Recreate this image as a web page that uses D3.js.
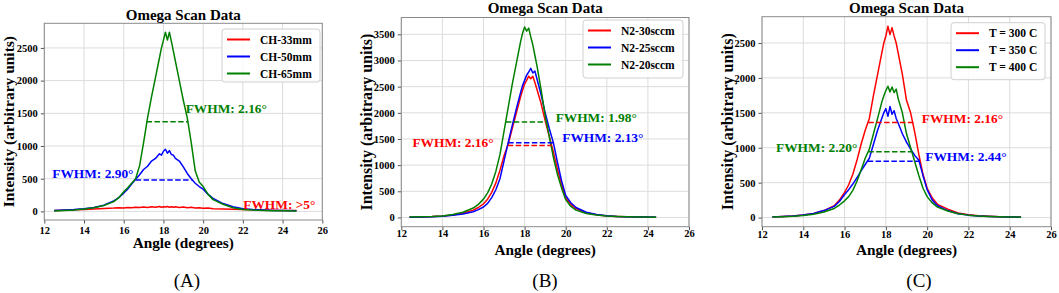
<!DOCTYPE html>
<html lang="en">
<head>
<meta charset="UTF-8">
<title>Omega Scan Data</title>
<script src="https://d3js.org/d3.v7.min.js"></script>
<style>
  body { margin: 0; background: #fff; }
  svg { display: block; font-family: "Liberation Serif", "Times New Roman", serif; }
</style>
</head>
<body>
<div id="chart"></div>
<script>
// ---- data ----
const xTicks = [12, 14, 16, 18, 20, 22, 24, 26];

// (A) channel height
const anglesA = [12.5, 13, 13.5, 14, 14.5, 15, 15.5, 15.75, 16, 16.2, 16.4, 16.6, 16.8, 17.0, 17.2, 17.4, 17.6, 17.8, 17.9,
  18.0, 18.1, 18.2, 18.3, 18.4, 18.5, 18.6, 18.8, 19.0, 19.2, 19.4, 19.6, 19.8, 20.0, 20.25, 20.5, 21, 21.5, 22, 22.5, 23, 23.5, 24, 24.7];
const ch33 = [12, 18, 25, 30, 38, 45, 50, 55, 52, 60, 55, 65, 58, 68, 60, 72, 62, 75, 64,
  72, 66, 74, 63, 72, 62, 70, 60, 66, 57, 62, 52, 56, 48, 50, 42, 38, 32, 28, 24, 20, 17, 14, 12];
const ch50 = [15, 20, 28, 40, 60, 95, 160, 210, 280, 340, 420, 490, 560, 640, 690, 770, 810, 880, 860,
  920, 950, 890, 930, 870, 860, 810, 770, 680, 580, 500, 430, 380, 340, 260, 200, 120, 70, 42, 28, 20, 15, 12, 8];
const ch65 = [5, 15, 22, 35, 55, 90, 150, 210, 300, 360, 430, 500, 700, 1050, 1430, 1750, 2050, 2350, 2500,
  2620, 2740, 2620, 2740, 2600, 2450, 2300, 2000, 1700, 1430, 1050, 620, 450, 380, 260, 180, 110, 55, 30, 20, 15, 10, 8, 6];
const namesA = ["CH-33mm", "CH-50mm", "CH-65mm"];
// [x start, x end, level, label x, label y, text]
const fwhmA = [
  null,
  [16.6, 19.42, 480, 12.4, 510, "FWHM: 2.90°"],
  [17.15, 19.25, 1370, 19.12, 1500, "FWHM: 2.16°"]
];
const noteA = [22.02, 43, "FWHM: >5°"];

// (B) N2 flow
const anglesB = [12.4, 13, 13.5, 14, 14.5, 15, 15.5, 15.75, 16, 16.2, 16.4, 16.6, 16.8, 17.0, 17.2, 17.4, 17.6, 17.8, 17.9,
  18.0, 18.1, 18.2, 18.3, 18.4, 18.5, 18.6, 18.8, 19.0, 19.2, 19.4, 19.6, 19.8, 20.0, 20.25, 20.5, 21, 21.5, 22, 22.5, 23, 23.5, 24, 24.4];
const n30 = [6, 10, 16, 28, 45, 80, 140, 190, 260, 350, 480, 660, 900, 1180, 1400, 1700, 2000, 2300, 2430,
  2550, 2620, 2700, 2650, 2700, 2580, 2450, 2180, 1850, 1550, 1250, 920, 620, 370, 250, 170, 90, 50, 30, 20, 13, 9, 7, 5];
const n25 = [6, 10, 15, 25, 40, 65, 110, 150, 200, 270, 380, 530, 740, 1080, 1430, 1760, 2080, 2380, 2520,
  2620, 2720, 2780, 2850, 2760, 2800, 2650, 2350, 2000, 1700, 1430, 1050, 700, 420, 280, 190, 100, 55, 32, 20, 14, 10, 7, 5];
const n20 = [8, 12, 18, 30, 55, 100, 180, 250, 350, 470, 640, 880, 1200, 1650, 2100, 2550, 2950, 3350, 3520,
  3640, 3560, 3620, 3450, 3300, 3100, 2900, 2450, 1950, 1550, 1150, 820, 560, 340, 210, 140, 75, 45, 28, 18, 12, 10, 8, 6];
const namesB = ["N2-30sccm", "N2-25sccm", "N2-20sccm"];
const fwhmB = [
  [17.18, 19.32, 1376, 12.54, 1349, "FWHM: 2.16°"],
  [17.2, 19.4, 1428, 19.83, 1434, "FWHM: 2.13°"],
  [17.09, 19.07, 1823, 19.51, 1818, "FWHM: 1.98°"]
];

// (C) temperature
const anglesC = [12.5, 13, 13.5, 14, 14.5, 15, 15.5, 15.75, 16, 16.2, 16.4, 16.6, 16.8, 17.0, 17.2, 17.4, 17.6, 17.8, 17.9,
  18.0, 18.1, 18.2, 18.3, 18.4, 18.5, 18.6, 18.8, 19.0, 19.2, 19.4, 19.6, 19.8, 20.0, 20.25, 20.5, 21, 21.5, 22, 22.5, 23, 23.5, 24, 24.55];
const t300 = [10, 15, 22, 38, 60, 100, 170, 250, 360, 470, 620, 820, 1050, 1250, 1420, 1750, 2050, 2350, 2500,
  2600, 2740, 2620, 2720, 2600, 2500, 2350, 2050, 1680, 1500, 1220, 900, 620, 420, 280, 190, 120, 65, 40, 25, 18, 12, 9, 7];
const t350 = [10, 15, 22, 38, 60, 100, 160, 230, 330, 400, 480, 570, 670, 760, 850, 1050, 1250, 1420, 1500,
  1560, 1450, 1590, 1480, 1530, 1420, 1350, 1200, 1080, 980, 890, 820, 600, 400, 250, 170, 100, 55, 35, 22, 15, 11, 8, 6];
const t400 = [8, 12, 18, 30, 48, 80, 130, 180, 240, 300, 390, 520, 680, 850, 980, 1200, 1420, 1650, 1740,
  1820, 1880, 1800, 1870, 1790, 1840, 1700, 1500, 1200, 1000, 800, 600, 420, 300, 210, 150, 95, 55, 35, 22, 15, 11, 8, 6];
const namesC = ["T = 300 C", "T = 350 C", "T = 400 C"];
const fwhmC = [
  [17.15, 19.33, 1363, 19.74, 1355, "FWHM: 2.16°"],
  [17.12, 19.65, 805, 19.91, 807, "FWHM: 2.44°"],
  [17.15, 19.25, 944, 12.68, 940, "FWHM: 2.20°"]
];

const colors = ["#ff0000", "#0000ff", "#008000"];

// ---- layout ----
const W = 1059, H = 293;
const FONT = "'Liberation Serif', 'Times New Roman', serif";
const panels = [
  { tag: "(A)", angles: anglesA, values: [ch33, ch50, ch65], names: namesA, fwhm: fwhmA, note: noteA,
    left: 44.3, right: 322.3, top: 23.3, bottom: 220, titleY: 19.5, tickY: 234, xLabelY: 248, yLabelX: 9, yLabelSize: 15.5,
    legend: { x: 222, y: 29, w: 98, h: 53 }, tagX: 187 },
  { tag: "(B)", angles: anglesB, values: [n30, n25, n20], names: namesB, fwhm: fwhmB,
    left: 401.3, right: 689, top: 17.5, bottom: 226.7, titleY: 13, tickY: 237.5, xLabelY: 255, yLabelX: 367, yLabelSize: 16,
    legend: { x: 583, y: 20, w: 100, h: 58 }, tagX: 545 },
  { tag: "(C)", angles: anglesC, values: [t300, t350, t400], names: namesC, fwhm: fwhmC,
    left: 762, right: 1051, top: 16.7, bottom: 226.7, titleY: 13, tickY: 238.5, xLabelY: 255, yLabelX: 728, yLabelSize: 16,
    legend: { x: 951, y: 22.7, w: 94, h: 57 }, tagX: 919 }
];

const svg = d3.select("#chart").append("svg")
  .attr("width", W).attr("height", H)
  .attr("font-family", FONT);

panels.forEach(drawPanel);

function txt(sel, size, bold) {
  return sel.append("text").attr("font-family", FONT).attr("font-size", size)
    .attr("font-weight", bold ? "bold" : "normal");
}

function drawPanel(p) {
  const all = p.values.flat();
  const lo = d3.min(all), hi = d3.max(all), pad = (hi - lo) * 0.05;

  const x = d3.scaleLinear().domain([12, 26]).range([p.left, p.right]);
  const y = d3.scaleLinear().domain([lo - pad, hi + pad]).range([p.bottom, p.top]);
  const yTicks = d3.range(0, hi + pad, 500);

  const g = svg.append("g");

  // grid
  g.append("g").selectAll("line").data(xTicks).join("line")
    .attr("x1", d => x(d)).attr("x2", d => x(d))
    .attr("y1", p.top).attr("y2", p.bottom)
    .attr("stroke", "#dcdcdc").attr("stroke-width", 1);
  g.append("g").selectAll("line").data(yTicks).join("line")
    .attr("x1", p.left).attr("x2", p.right)
    .attr("y1", d => y(d)).attr("y2", d => y(d))
    .attr("stroke", "#dcdcdc").attr("stroke-width", 1);

  // axes
  const xAxis = g.append("g").attr("transform", `translate(0,${p.bottom})`)
    .call(d3.axisBottom(x).tickValues(xTicks).tickFormat(d3.format("d")).tickSize(3.5).tickPadding(2));
  const yAxis = g.append("g").attr("transform", `translate(${p.left},0)`)
    .call(d3.axisLeft(y).tickValues(yTicks).tickFormat(d3.format("d")).tickSize(3.5).tickPadding(3));
  [xAxis, yAxis].forEach(a => {
    a.attr("font-family", FONT).attr("font-size", 10.5).attr("font-weight", "bold");
    a.select(".domain").remove();
    a.selectAll(".tick line").attr("stroke", "#555");
    a.selectAll(".tick text").attr("fill", "#000");
  });
  xAxis.selectAll(".tick text").attr("dy", null).attr("y", p.tickY - p.bottom);

  // curves
  const clipId = "clip" + p.tag.replace(/\W/g, "");
  svg.append("clipPath").attr("id", clipId).append("rect")
    .attr("x", p.left).attr("y", p.top).attr("width", p.right - p.left).attr("height", p.bottom - p.top);
  const plot = g.append("g").attr("clip-path", `url(#${clipId})`);
  p.values.forEach((vals, i) => {
    const line = d3.line().x((d, j) => x(p.angles[j])).y(d => y(d));
    plot.append("path").datum(vals)
      .attr("d", line).attr("fill", "none")
      .attr("stroke", colors[i]).attr("stroke-width", 1.5).attr("stroke-linejoin", "round");
  });

  // FWHM markers
  p.fwhm.forEach((f, i) => {
    if (!f) return;
    plot.append("line")
      .attr("x1", x(f[0])).attr("x2", x(f[1])).attr("y1", y(f[2])).attr("y2", y(f[2]))
      .attr("stroke", colors[i]).attr("stroke-width", 1.5).attr("stroke-dasharray", "5.5,2.4");
    txt(g, 13.4, true)
      .attr("x", x(f[3])).attr("y", y(f[4]))
      .attr("fill", colors[i]).text(f[5]);
  });
  if (p.note) {
    txt(g, 13.4, true)
      .attr("x", x(p.note[0])).attr("y", y(p.note[1]))
      .attr("fill", colors[0]).text(p.note[2]);
  }

  // frame
  g.append("rect")
    .attr("x", p.left).attr("y", p.top)
    .attr("width", p.right - p.left).attr("height", p.bottom - p.top)
    .attr("fill", "none").attr("stroke", "#8a8a8a").attr("stroke-width", 1);

  // legend
  const L = p.legend;
  const lg = g.append("g").attr("transform", `translate(${L.x},${L.y})`);
  lg.append("rect").attr("width", L.w).attr("height", L.h).attr("rx", 3)
    .attr("fill", "#fff").attr("fill-opacity", 0.85).attr("stroke", "#d0d0d0");
  p.names.forEach((n, i) => {
    const cy = 10.5 + i * 17;
    lg.append("line").attr("x1", 5).attr("x2", 28).attr("y1", cy).attr("y2", cy)
      .attr("stroke", colors[i]).attr("stroke-width", 2);
    txt(lg, 11.5, true).attr("x", 38).attr("y", cy + 4).text(n);
  });

  // titles and labels
  const cx = (p.left + p.right) / 2;
  txt(g, 15, true).attr("x", cx).attr("y", p.titleY)
    .attr("text-anchor", "middle").text("Omega Scan Data");
  txt(g, 15.3, true).attr("x", cx).attr("y", p.xLabelY)
    .attr("text-anchor", "middle").text("Angle (degrees)");
  txt(g, p.yLabelSize, true)
    .attr("transform", `translate(${p.yLabelX + 5},${(p.top + p.bottom) / 2}) rotate(-90)`)
    .attr("text-anchor", "middle").text("Intensity (arbitrary units)");
  txt(g, 19, false).attr("x", p.tagX).attr("y", 287)
    .attr("text-anchor", "middle").text(p.tag);
}
</script>
</body>
</html>
